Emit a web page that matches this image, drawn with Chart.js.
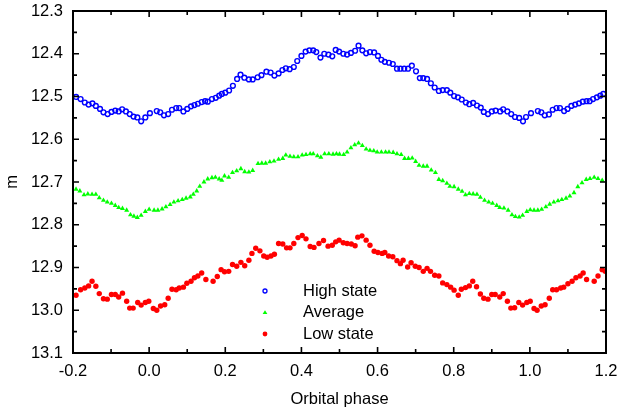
<!DOCTYPE html>
<html>
<head>
<meta charset="utf-8">
<title>Orbital phase light curves</title>
<script src="https://cdn.jsdelivr.net/npm/chart.js@4.4.0/dist/chart.umd.min.js"></script>
<style>
    html, body { margin: 0; padding: 0; background: #fff; }
    #wrap { width: 633px; height: 409px; }
</style>
</head>
<body>
<div id="wrap"><canvas id="lcChart" width="633" height="409"></canvas></div>
<script>
// Tick labels
const xTicks = [-0.2, 0.0, 0.2, 0.4, 0.6, 0.8, 1.0, 1.2];
const xMinorTicks = [-0.1, 0.1, 0.3, 0.5, 0.7, 0.9, 1.1];
const yTicks = [12.3, 12.4, 12.5, 12.6, 12.7, 12.8, 12.9, 13.0, 13.1];
const yMinorTicks = [12.35, 12.45, 12.55, 12.65, 12.75, 12.85, 12.95, 13.05];

const seriesNames = ['High state', 'Average', 'Low state'];

// High state
const highPhase = [-0.192, -0.180, -0.169, -0.159, -0.149, -0.140, -0.129, -0.120, -0.109, -0.099,
    -0.089, -0.080, -0.071, -0.061, -0.051, -0.041, -0.031, -0.021, -0.010, 0.002,
    0.020, 0.029, 0.039, 0.050, 0.060, 0.071, 0.079, 0.090, 0.100, 0.110,
    0.119, 0.128, 0.138, 0.147, 0.154, 0.165, 0.175, 0.184, 0.191, 0.200,
    0.210, 0.220, 0.231, 0.240, 0.250, 0.262, 0.272, 0.285, 0.295, 0.308,
    0.319, 0.329, 0.340, 0.350, 0.359, 0.369, 0.380, 0.389, 0.400, 0.411,
    0.421, 0.431, 0.439, 0.450, 0.460, 0.471, 0.481, 0.490, 0.499, 0.510,
    0.520, 0.530, 0.541, 0.550, 0.560, 0.570, 0.580, 0.591, 0.601, 0.610,
    0.619, 0.630, 0.640, 0.651, 0.660, 0.670, 0.680, 0.690, 0.701, 0.711,
    0.720, 0.730, 0.740, 0.750, 0.761, 0.771, 0.782, 0.791, 0.801, 0.811,
    0.821, 0.832, 0.841, 0.851, 0.861, 0.871, 0.879, 0.890, 0.900, 0.910,
    0.922, 0.930, 0.941, 0.951, 0.961, 0.972, 0.982, 0.990, 1.003, 1.021,
    1.030, 1.039, 1.050, 1.060, 1.070, 1.079, 1.090, 1.099, 1.109, 1.119,
    1.129, 1.139, 1.149, 1.157, 1.166, 1.176, 1.185, 1.193];
const highMag = [12.501, 12.506, 12.514, 12.519, 12.516, 12.522, 12.529, 12.537, 12.541, 12.536,
    12.533, 12.535, 12.530, 12.535, 12.541, 12.547, 12.549, 12.558, 12.549, 12.539,
    12.534, 12.537, 12.544, 12.541, 12.531, 12.527, 12.527, 12.535, 12.529, 12.523,
    12.520, 12.517, 12.513, 12.511, 12.512, 12.506, 12.503, 12.498, 12.494, 12.491,
    12.486, 12.475, 12.459, 12.449, 12.456, 12.460, 12.460, 12.455, 12.450, 12.442,
    12.444, 12.451, 12.446, 12.438, 12.434, 12.436, 12.431, 12.417, 12.405, 12.395,
    12.392, 12.392, 12.396, 12.409, 12.400, 12.402, 12.406, 12.391, 12.395, 12.400,
    12.402, 12.398, 12.393, 12.381, 12.392, 12.399, 12.396, 12.397, 12.405, 12.414,
    12.419, 12.421, 12.424, 12.435, 12.435, 12.435, 12.435, 12.428, 12.441, 12.457,
    12.457, 12.459, 12.469, 12.479, 12.487, 12.485, 12.485, 12.491, 12.499, 12.502,
    12.507, 12.514, 12.518, 12.515, 12.521, 12.526, 12.536, 12.541, 12.535, 12.533,
    12.535, 12.530, 12.535, 12.541, 12.548, 12.550, 12.558, 12.548, 12.539, 12.534,
    12.537, 12.544, 12.542, 12.531, 12.527, 12.527, 12.534, 12.529, 12.522, 12.519,
    12.516, 12.512, 12.511, 12.511, 12.506, 12.502, 12.498, 12.494];

// Average
const avgPhase = [-0.192, -0.182, -0.171, -0.161, -0.150, -0.140, -0.131, -0.120, -0.110, -0.099,
    -0.089, -0.080, -0.070, -0.059, -0.049, -0.040, -0.031, -0.021, -0.010, 0.000,
    0.013, 0.023, 0.034, 0.044, 0.055, 0.065, 0.076, 0.087, 0.097, 0.108,
    0.116, 0.125, 0.133, 0.144, 0.154, 0.165, 0.174, 0.184, 0.191, 0.198,
    0.209, 0.219, 0.230, 0.241, 0.251, 0.262, 0.272, 0.286, 0.296, 0.306,
    0.317, 0.328, 0.340, 0.351, 0.359, 0.370, 0.380, 0.391, 0.402, 0.412,
    0.423, 0.431, 0.442, 0.451, 0.461, 0.472, 0.483, 0.492, 0.500, 0.511,
    0.520, 0.530, 0.540, 0.550, 0.560, 0.570, 0.580, 0.590, 0.599, 0.610,
    0.621, 0.630, 0.641, 0.651, 0.662, 0.671, 0.681, 0.691, 0.700, 0.709,
    0.720, 0.730, 0.741, 0.752, 0.761, 0.771, 0.782, 0.790, 0.801, 0.812,
    0.822, 0.831, 0.841, 0.851, 0.861, 0.870, 0.881, 0.892, 0.902, 0.913,
    0.921, 0.932, 0.943, 0.953, 0.962, 0.972, 0.981, 0.992, 1.001, 1.011,
    1.021, 1.031, 1.042, 1.052, 1.063, 1.074, 1.084, 1.095, 1.105, 1.116,
    1.126, 1.137, 1.148, 1.158, 1.169, 1.179, 1.190];
const avgMag = [12.717, 12.721, 12.730, 12.728, 12.729, 12.729, 12.737, 12.743, 12.747, 12.750,
    12.755, 12.760, 12.762, 12.766, 12.777, 12.780, 12.783, 12.778, 12.769, 12.764,
    12.766, 12.766, 12.763, 12.758, 12.753, 12.747, 12.744, 12.741, 12.738, 12.735,
    12.729, 12.721, 12.710, 12.700, 12.693, 12.690, 12.689, 12.693, 12.696, 12.686,
    12.689, 12.678, 12.674, 12.669, 12.676, 12.677, 12.673, 12.657, 12.656, 12.656,
    12.653, 12.651, 12.647, 12.645, 12.637, 12.640, 12.641, 12.641, 12.637, 12.636,
    12.634, 12.634, 12.639, 12.642, 12.634, 12.634, 12.635, 12.634, 12.635, 12.636,
    12.630, 12.620, 12.613, 12.609, 12.615, 12.623, 12.626, 12.627, 12.630, 12.630,
    12.630, 12.630, 12.631, 12.634, 12.636, 12.645, 12.645, 12.644, 12.652, 12.661,
    12.663, 12.663, 12.672, 12.678, 12.694, 12.697, 12.703, 12.710, 12.711, 12.717,
    12.722, 12.730, 12.727, 12.728, 12.729, 12.736, 12.743, 12.747, 12.750, 12.755,
    12.760, 12.761, 12.766, 12.777, 12.781, 12.782, 12.778, 12.769, 12.765, 12.766,
    12.766, 12.764, 12.758, 12.752, 12.747, 12.744, 12.741, 12.738, 12.733, 12.725,
    12.711, 12.702, 12.694, 12.692, 12.689, 12.692, 12.696];

// Low state
const lowPhase = [-0.192, -0.180, -0.169, -0.159, -0.150, -0.140, -0.131, -0.120, -0.110, -0.099,
    -0.089, -0.080, -0.070, -0.059, -0.051, -0.042, -0.030, -0.021, -0.010, -0.001,
    0.011, 0.020, 0.030, 0.041, 0.050, 0.060, 0.071, 0.079, 0.090, 0.099,
    0.110, 0.119, 0.128, 0.138, 0.149, 0.168, 0.179, 0.189, 0.198, 0.209,
    0.219, 0.230, 0.241, 0.251, 0.262, 0.270, 0.280, 0.291, 0.301, 0.310,
    0.320, 0.329, 0.340, 0.351, 0.361, 0.370, 0.380, 0.391, 0.402, 0.412,
    0.423, 0.433, 0.446, 0.458, 0.470, 0.481, 0.490, 0.499, 0.510, 0.520,
    0.531, 0.541, 0.548, 0.559, 0.570, 0.580, 0.591, 0.601, 0.612, 0.619,
    0.629, 0.640, 0.651, 0.660, 0.667, 0.679, 0.688, 0.699, 0.709, 0.720,
    0.730, 0.739, 0.750, 0.761, 0.771, 0.782, 0.792, 0.801, 0.812, 0.820,
    0.831, 0.841, 0.850, 0.860, 0.870, 0.879, 0.890, 0.900, 0.909, 0.921,
    0.930, 0.941, 0.950, 0.960, 0.971, 0.981, 0.992, 1.001, 1.011, 1.019,
    1.030, 1.040, 1.051, 1.060, 1.070, 1.081, 1.089, 1.100, 1.111, 1.121,
    1.132, 1.140, 1.149, 1.169, 1.179, 1.190, 1.198];
const lowMag = [12.965, 12.952, 12.948, 12.943, 12.932, 12.944, 12.961, 12.973, 12.974, 12.963,
    12.963, 12.969, 12.960, 12.979, 12.995, 12.995, 12.982, 12.988, 12.982, 12.979,
    12.996, 13.000, 12.990, 12.987, 12.972, 12.951, 12.952, 12.948, 12.946, 12.937,
    12.932, 12.924, 12.920, 12.913, 12.928, 12.932, 12.921, 12.905, 12.910, 12.909,
    12.893, 12.897, 12.888, 12.896, 12.883, 12.867, 12.855, 12.861, 12.873, 12.876,
    12.873, 12.869, 12.844, 12.845, 12.854, 12.854, 12.844, 12.830, 12.825, 12.833,
    12.851, 12.853, 12.844, 12.837, 12.850, 12.848, 12.840, 12.836, 12.842, 12.844,
    12.845, 12.849, 12.829, 12.826, 12.836, 12.848, 12.862, 12.865, 12.867, 12.865,
    12.873, 12.875, 12.884, 12.891, 12.883, 12.899, 12.889, 12.897, 12.900, 12.909,
    12.902, 12.909, 12.918, 12.920, 12.936, 12.940, 12.946, 12.953, 12.965, 12.951,
    12.947, 12.943, 12.932, 12.945, 12.962, 12.972, 12.974, 12.963, 12.963, 12.969,
    12.961, 12.979, 12.995, 12.994, 12.982, 12.988, 12.982, 12.979, 12.996, 13.000,
    12.990, 12.987, 12.972, 12.952, 12.952, 12.948, 12.946, 12.938, 12.932, 12.924,
    12.920, 12.913, 12.928, 12.932, 12.920, 12.905, 12.909];

const FONT = "'Liberation Sans', Arial, Helvetica, sans-serif";

function toPoints(xs, ys) {
    return xs.map((x, i) => ({ x: x, y: ys[i] }));
}

// Frame and inward ticks, like the original plot
const framePlugin = {
    id: 'frame',
    afterDatasetsDraw(chart) {
        const ctx = chart.ctx;
        const area = chart.chartArea;
        const xs = chart.scales.x;
        const ys = chart.scales.y;
        ctx.save();
        ctx.strokeStyle = '#000';
        ctx.lineWidth = 1.6;
        ctx.beginPath();
        xTicks.forEach(v => {
            const px = xs.getPixelForValue(v);
            ctx.moveTo(px, area.bottom); ctx.lineTo(px, area.bottom - 6);
            ctx.moveTo(px, area.top); ctx.lineTo(px, area.top + 6);
        });
        xMinorTicks.forEach(v => {
            const px = xs.getPixelForValue(v);
            ctx.moveTo(px, area.bottom); ctx.lineTo(px, area.bottom - 4);
            ctx.moveTo(px, area.top); ctx.lineTo(px, area.top + 4);
        });
        yTicks.forEach(v => {
            const py = ys.getPixelForValue(v);
            ctx.moveTo(area.left, py); ctx.lineTo(area.left + 6, py);
            ctx.moveTo(area.right, py); ctx.lineTo(area.right - 6, py);
        });
        yMinorTicks.forEach(v => {
            const py = ys.getPixelForValue(v);
            ctx.moveTo(area.left, py); ctx.lineTo(area.left + 4, py);
            ctx.moveTo(area.right, py); ctx.lineTo(area.right - 4, py);
        });
        ctx.stroke();
        ctx.lineWidth = 2;
        ctx.strokeRect(area.left, area.top, area.right - area.left, area.bottom - area.top);
        ctx.restore();
    }
};

// Legend inside the plot, lower middle
const innerLegend = {
    id: 'innerLegend',
    afterDraw(chart) {
        const ctx = chart.ctx;
        const area = chart.chartArea;
        const mx = area.left + 192;
        const tx = area.left + 230;
        const y0 = area.top + 280;
        const gap = 21.5;
        ctx.save();
        ctx.font = '16.5px ' + FONT;
        ctx.textBaseline = 'middle';
        ctx.fillStyle = '#000';
        chart.data.datasets.forEach((ds, i) => {
            const y = y0 + i * gap;
            ctx.beginPath();
            if (ds.pointStyle === 'triangle') {
                ctx.moveTo(mx, y - 2.2);
                ctx.lineTo(mx + 2.4, y + 1.4);
                ctx.lineTo(mx - 2.4, y + 1.4);
                ctx.closePath();
                ctx.fillStyle = ds.pointBackgroundColor;
                ctx.fill();
            } else if (ds.label === 'High state') {
                ctx.arc(mx, y, 2, 0, Math.PI * 2);
                ctx.strokeStyle = ds.pointBorderColor;
                ctx.lineWidth = 1.3;
                ctx.stroke();
            } else {
                ctx.arc(mx, y, 2.4, 0, Math.PI * 2);
                ctx.fillStyle = ds.pointBackgroundColor;
                ctx.fill();
            }
            ctx.fillStyle = '#000';
            ctx.fillText(ds.label, tx, y);
        });
        ctx.restore();
    }
};

const ctx = document.getElementById('lcChart');
const lcChart = new Chart(ctx, {
    type: 'scatter',
    data: {
        datasets: [{
            label: seriesNames[0],
            data: toPoints(highPhase, highMag),
            pointStyle: 'circle',
            pointRadius: 2.4,
            pointBorderWidth: 1.4,
            pointBorderColor: '#0000ff',
            pointBackgroundColor: 'rgba(255,255,255,0)',
            showLine: false
        }, {
            label: seriesNames[1],
            data: toPoints(avgPhase, avgMag),
            pointStyle: 'triangle',
            pointRadius: 2.9,
            pointBorderWidth: 0,
            pointBorderColor: '#00ff00',
            pointBackgroundColor: '#00ff00',
            showLine: false
        }, {
            label: seriesNames[2],
            data: toPoints(lowPhase, lowMag),
            pointStyle: 'circle',
            pointRadius: 2.7,
            pointBorderWidth: 0,
            pointBorderColor: '#ff0000',
            pointBackgroundColor: '#ff0000',
            showLine: false
        }]
    },
    options: {
        responsive: false,
        animation: false,
        events: [],
        layout: { padding: { top: 11, right: 27, left: 0, bottom: 0 } },
        plugins: {
            legend: { display: false },
            tooltip: { enabled: false }
        },
        scales: {
            x: {
                type: 'linear',
                min: -0.2,
                max: 1.2,
                afterBuildTicks: scale => { scale.ticks = xTicks.map(v => ({ value: v })); },
                afterFit: scale => {
                    scale.height = 56;
                    scale.paddingLeft = 0;
                    scale.paddingRight = 0;
                },
                grid: { display: false, drawTicks: false },
                border: { display: false },
                ticks: {
                    color: '#000',
                    padding: 9,
                    maxRotation: 0,
                    autoSkip: false,
                    font: { family: FONT, size: 16.5 },
                    callback: v => v.toFixed(1)
                },
                title: {
                    display: true,
                    text: 'Orbital phase',
                    color: '#000',
                    padding: { top: 0, bottom: 0 },
                    font: { family: FONT, size: 16.5 }
                }
            },
            y: {
                type: 'linear',
                reverse: true,
                min: 12.3,
                max: 13.1,
                afterBuildTicks: scale => { scale.ticks = yTicks.map(v => ({ value: v })); },
                afterFit: scale => {
                    scale.width = 73;
                    scale.paddingTop = 0;
                    scale.paddingBottom = 0;
                },
                grid: { display: false, drawTicks: false },
                border: { display: false },
                ticks: {
                    color: '#000',
                    padding: 10,
                    autoSkip: false,
                    font: { family: FONT, size: 16.5 },
                    callback: v => v.toFixed(1)
                },
                title: {
                    display: true,
                    text: 'm',
                    color: '#000',
                    padding: { top: 3, bottom: 0 },
                    font: { family: FONT, size: 16.5 }
                }
            }
        }
    },
    plugins: [framePlugin, innerLegend]
});
</script>
</body>
</html>
